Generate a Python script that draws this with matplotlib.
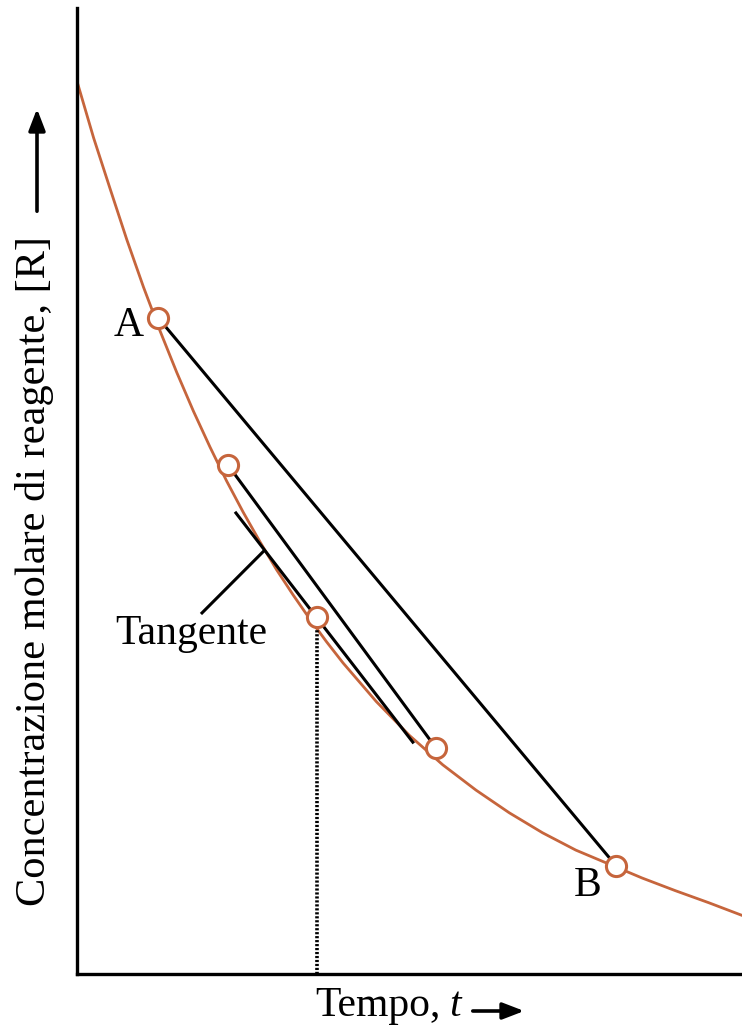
import matplotlib
matplotlib.use("Agg")
import matplotlib.pyplot as plt

# curve (time, concentration), arbitrary units
t_curve = [0, 0.25, 0.5, 0.75, 1, 1.25, 1.5, 1.75, 2, 2.25, 2.5, 2.75, 3,
           3.25, 3.5, 3.75, 4, 4.5, 5, 5.5, 6, 6.5, 7, 7.5, 8, 8.5, 9, 9.5, 10]
c_curve = [13.4, 12.55, 11.78, 11.02, 10.31, 9.65, 9.03, 8.45, 7.91, 7.40,
           6.93, 6.49, 6.07, 5.69, 5.33, 4.99, 4.67, 4.09, 3.58, 3.14, 2.76,
           2.42, 2.12, 1.86, 1.65, 1.44, 1.25, 1.07, 0.88]

# marked points on the curve
t_pts = [1.22, 2.27, 3.61, 5.40, 8.11]
c_pts = [9.85, 7.64, 5.36, 3.39, 1.62]

# tangent segment at the middle point
t_tan = [2.39, 5.05]
c_tan = [6.92, 3.48]

# leader line for the "Tangente" label
t_lead = [1.88, 2.80]
c_lead = [5.42, 6.34]

orange = "#c6653c"

fig = plt.figure(figsize=(7.42, 10.32), dpi=100)
ax = fig.add_axes([77 / 742, 58 / 1032, 665 / 742, 966 / 1032])

ax.plot(t_curve, c_curve, color=orange, lw=2, zorder=2)

# chords A-B and point2-point4
ax.plot([t_pts[0], t_pts[4]], [c_pts[0], c_pts[4]], color="black", lw=2.2, zorder=3)
ax.plot([t_pts[1], t_pts[3]], [c_pts[1], c_pts[3]], color="black", lw=2.2, zorder=3)
ax.plot(t_tan, c_tan, color="black", lw=2.2, zorder=3)
ax.plot(t_lead, c_lead, color="black", lw=2.2, zorder=3)

# dotted drop line
ax.plot([t_pts[2], t_pts[2]], [0, c_pts[2]], color="black", lw=2.6,
        linestyle=(0, (0.6, 0.5)), zorder=3)

ax.plot(t_pts, c_pts, "o", ms=14.5, mfc="white", mec=orange, mew=2.2, zorder=4)

font = "Liberation Serif"
ax.text(t_pts[0] - 0.22, c_pts[0] - 0.12, "A", fontsize=30, family=font,
        ha="right", va="center")
ax.text(t_pts[4] - 0.22, c_pts[4] - 0.3, "B", fontsize=30, family=font,
        ha="right", va="center")
ax.text(1.72, 5.1, "Tangente", fontsize=30, family=font, ha="center", va="center")

ax.set_xlim(0, 10)
ax.set_ylim(0, 14.5)
ax.set_xticks([])
ax.set_yticks([])
for s in ["top", "right"]:
    ax.spines[s].set_visible(False)
for s in ["left", "bottom"]:
    ax.spines[s].set_linewidth(2.4)

# axis labels with arrows
fig.text(35 / 742, 1 - 571 / 1032, "Concentrazione molare di reagente, [R]",
         rotation=90, fontsize=30.5, family=font, ha="center", va="center")
ax.annotate("", xy=(37 / 742, 1 - 106 / 1032), xytext=(37 / 742, 1 - 214 / 1032),
            xycoords="figure fraction",
            arrowprops=dict(arrowstyle="-|>,head_length=1.3,head_width=0.5",
                            color="black", lw=2.6))

fig.text(315 / 742, 1 - 1006 / 1032, "Tempo,", fontsize=30, family=font,
         ha="left", va="center")
fig.text(449 / 742, 1 - 1006 / 1032, "t", fontsize=30, family=font,
         style="italic", ha="left", va="center")
ax.annotate("", xy=(527 / 742, 1 - 1011 / 1032), xytext=(470 / 742, 1 - 1011 / 1032),
            xycoords="figure fraction",
            arrowprops=dict(arrowstyle="-|>,head_length=1.3,head_width=0.5",
                            color="black", lw=2.6))

fig.savefig("out.png", dpi=100)
